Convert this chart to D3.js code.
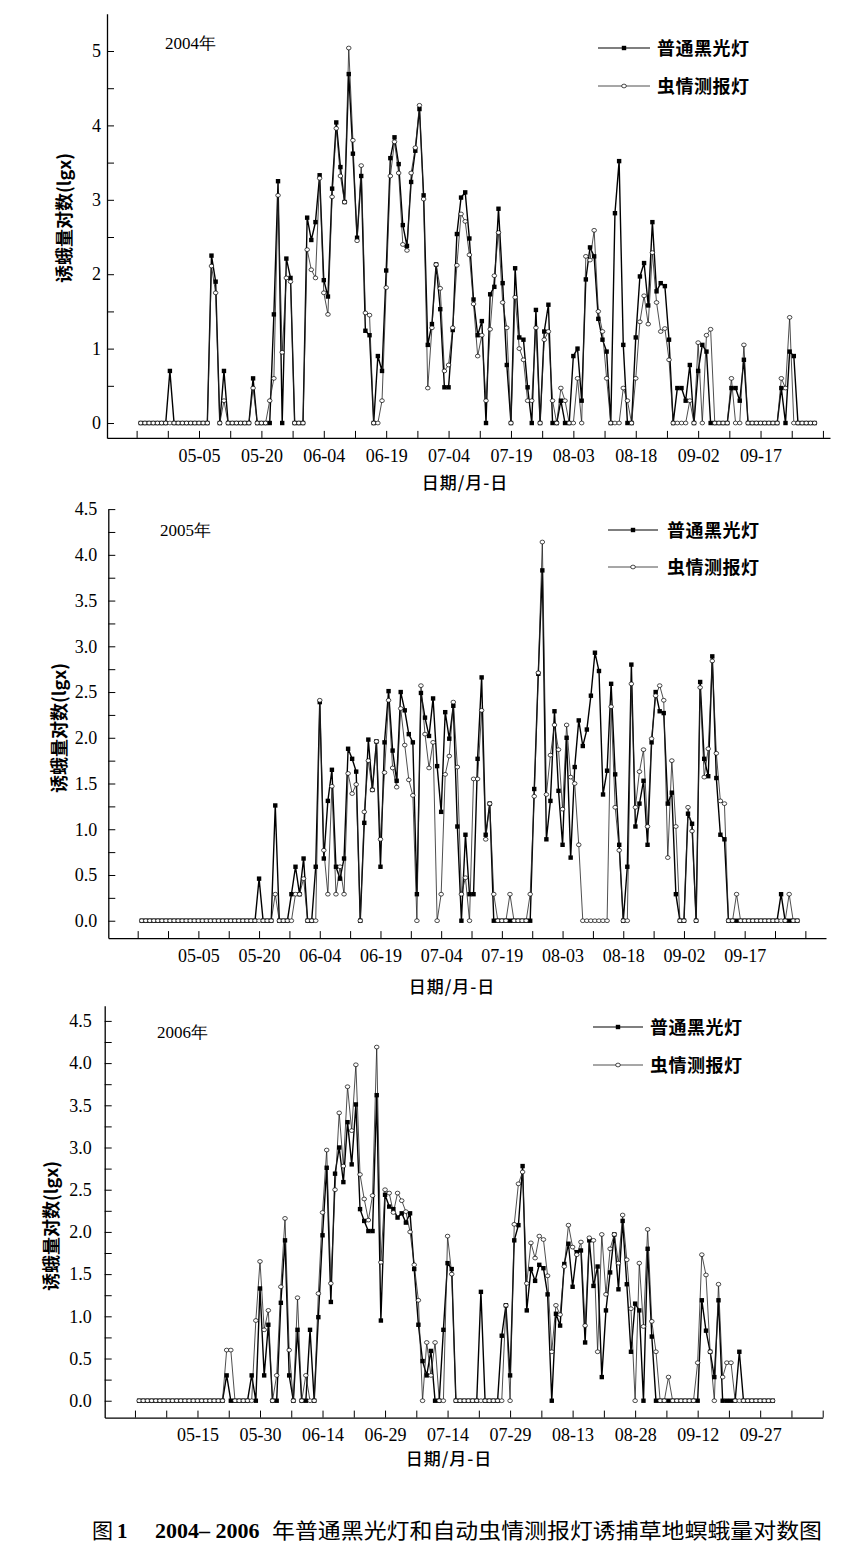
<!DOCTYPE html>
<html><head><meta charset="utf-8">
<script src="https://cdn.jsdelivr.net/npm/d3@7"></script>
<style>body{margin:0;background:#fff}svg{display:block}</style>
</head><body><svg id="c" width="863" height="1558"></svg>
<script>
// ---------------- data ----------------
const yearLabels = ["2004年", "2005年", "2006年"];
const seriesNames = ["普通黑光灯", "虫情测报灯"];
const tickOrigins = ["2004-04-20", "2005-04-20", "2006-04-30"]; // first x tick date
const dataStartOffset = [1, 1, 1]; // first data day relative to tick origin
const xTickDays = [0,7.5,15,22.5,30,37.5,45,52.5,60,67.5,75,82.5,90,97.5,105,112.5,120,127.5,135,142.5,150,157.5,165];
const xLabelDays = [15,30,45,60,75,90,105,120,135,150];
const yTicks2004 = [0,0.5,1,1.5,2,2.5,3,3.5,4,4.5,5];
const yLabels2004 = [0,1,2,3,4,5];
const yTicks2005 = [0,0.25,0.5,0.75,1,1.25,1.5,1.75,2,2.25,2.5,2.75,3,3.25,3.5,3.75,4,4.25,4.5];
const yLabels2005 = [0,0.5,1,1.5,2,2.5,3,3.5,4,4.5];

const black2004 = [
0,0,0,0,0,0,0,0.70,0,0,
0,0,0,0,0,0,0,2.25,1.90,0,
0.70,0,0,0,0,0,0,0.60,0,0,
0,0,1.46,3.25,0,2.21,1.95,0,0,0,
2.76,2.46,2.70,3.33,1.92,1.70,3.15,4.04,3.44,2.97,
4.69,3.62,2.49,3.32,1.24,1.18,0,0.90,0.70,2.05,
3.56,3.84,3.48,2.66,2.38,3.24,3.66,4.22,3.06,1.05,
1.33,2.13,1.53,0.48,0.48,1.25,2.54,3.03,3.10,2.48,
1.66,1.18,1.37,0,1.73,1.83,2.88,1.88,0.78,0,
2.08,1.15,1.12,0.48,0,1.52,0,1.23,1.59,0,
0,0.30,0,0,0.90,1.00,0.30,1.93,2.36,2.24,
1.40,1.12,0.96,0,2.82,3.52,1.05,0,0,1.15,
1.97,2.15,1.58,2.70,1.77,1.88,1.84,1.12,0,0.47,
0.47,0.30,0.78,0,0.70,1.05,0.96,0,0,0,
0,0,0.47,0.47,0.30,0.85,0,0,0,0,
0,0,0,0,0.47,0,0.96,0.90,0,0,
0,0,0];
const lamp2004 = [
0,0,0,0,0,0,0,0,0,0,
0,0,0,0,0,0,0,2.11,1.75,0,
0.30,0,0,0,0,0,0,0.47,0,0,
0,0.30,0.60,3.06,0.95,1.95,1.90,0,0,0,
2.33,2.06,1.95,3.29,1.75,1.46,3.04,3.96,3.32,2.97,
5.04,3.80,2.45,3.46,1.48,1.45,0,0,0.30,1.82,
3.32,3.78,3.36,2.40,2.32,3.36,3.70,4.27,3.01,0.47,
1.28,2.13,1.81,0.70,0.78,1.28,2.12,2.81,2.71,2.26,
1.60,0.90,1.18,0.30,1.26,1.98,2.56,1.62,1.28,0,
1.69,1.00,0.85,0.30,0.30,1.28,0,1.12,1.23,0.30,
0,0.47,0.30,0,0,0.60,0,2.24,2.19,2.59,
1.50,1.23,0.60,0,0,0,0.47,0.30,0,0.60,
1.36,1.71,1.33,2.29,1.62,1.23,1.27,0.85,0,0,
0,0,0.30,0,1.08,0,1.18,1.26,0,0,
0,0,0.60,0,0,1.05,0,0,0,0,
0,0,0,0,0.60,0.47,1.42,0,0,0,
0,0,0];

const black2005 = [
0,0,0,0,0,0,0,0,0,0,
0,0,0,0,0,0,0,0,0,0,
0,0,0,0,0,0,0,0,0,0.46,
0,0,0,1.26,0,0,0,0.29,0.59,0.29,
0.68,0,0,0.59,2.39,0.68,1.31,1.65,0.59,0.46,
0.68,1.88,1.77,1.63,0,1.07,1.98,1.43,1.96,0.59,
1.95,2.51,1.86,1.53,2.50,2.30,2.04,1.95,0.29,2.49,
2.22,2.02,2.43,1.69,1.19,2.28,1.99,2.35,1.03,0,
0.94,0.29,0.29,1.77,2.66,0.94,1.28,0,0,0,
0,0,0,0,0,0,0,1.44,2.70,3.83,
0.89,1.31,2.29,1.42,0.83,2.00,0.69,1.68,2.19,1.91,
2.09,2.46,2.93,2.73,1.38,1.64,2.59,1.60,0.83,0,
0.59,2.80,1.03,1.28,1.53,0.83,1.95,2.50,2.29,2.27,
1.28,1.40,0.29,0,0,1.17,1.06,0,2.61,1.77,
1.58,2.89,1.56,0.94,0.89,0,0,0,0,0,
0,0,0,0,0,0,0,0,0.29,0,
0,0,0];
const lamp2005 = [
0,0,0,0,0,0,0,0,0,0,
0,0,0,0,0,0,0,0,0,0,
0,0,0,0,0,0,0,0,0,0,
0,0,0,0.29,0,0,0,0,0.29,0.29,
0.46,0,0,0,2.41,0.77,0.29,1.47,0.29,0.59,
0.29,1.61,1.39,1.49,0,1.19,1.75,1.43,1.96,0.89,
1.62,2.41,1.67,1.46,2.32,1.92,1.54,1.37,0,2.57,
2.04,1.67,1.95,0,0.29,1.60,1.80,2.39,1.68,0.29,
0.47,0,1.55,1.55,2.30,0.89,1.28,0.29,0,0,
0,0.29,0,0,0,0,0.29,1.36,2.71,4.14,
1.38,1.81,2.14,1.87,1.22,2.14,1.57,1.50,0.83,0,
0,0,0,0,0,0,2.34,1.24,0.77,0,
0,2.59,1.24,1.63,1.87,1.03,1.99,2.46,2.57,2.41,
0.69,1.75,1.03,0,0,1.24,0.98,0,2.55,1.57,
1.88,2.84,1.83,1.31,1.28,0,0,0.29,0,0,
0,0,0,0,0,0,0,0,0,0,
0.29,0,0];

const black2006 = [
0,0,0,0,0,0,0,0,0,0,
0,0,0,0,0,0,0,0,0,0,
0,0.30,0,0,0,0,0,0.30,0,1.33,
0.30,0.90,0,0,1.16,1.90,0.30,0,0.84,0,
0,0.84,0,0.99,1.96,2.76,1.17,2.69,3.00,2.59,
3.30,2.80,3.51,2.27,2.13,2.01,2.01,3.62,0.95,2.44,
2.30,2.27,2.17,2.22,2.11,2.22,1.56,0.90,0.47,0.30,
0.59,0,0,0.84,1.63,1.56,0,0,0,0,
0,0,1.29,0,0,0,0,0.77,1.13,0.30,
1.90,2.08,2.78,1.07,1.56,1.42,1.61,1.57,1.26,0,
1.03,0.89,1.62,1.86,1.35,1.76,1.78,0.69,1.90,1.36,
1.59,0.28,1.07,1.52,1.97,1.32,2.13,1.38,0.58,1.15,
1.07,0,1.80,0.76,0,0,0,0,0,0,
0,0,0,0,0,1.19,0.83,0.58,0.28,1.19,
0,0,0,0,0.58,0,0,0,0,0,
0,0,0];
const lamp2006 = [
0,0,0,0,0,0,0,0,0,0,
0,0,0,0,0,0,0,0,0,0,
0,0.60,0.60,0,0,0,0,0,0.95,1.65,
0.84,1.07,0,0.30,1.35,2.16,0.60,0,1.22,0,
0.30,0,0,1.27,2.23,2.97,1.39,2.50,3.41,2.78,
3.72,3.20,3.98,2.68,2.39,2.14,2.43,4.19,1.64,2.50,
2.46,2.23,2.46,2.37,2.24,2.00,1.61,1.19,0,0.69,
0.30,0.69,0,0,1.95,1.50,0,0,0,0,
0,0,0,0,0,0,0,0,1.13,0,
2.09,2.57,2.71,1.39,1.87,1.69,1.95,1.91,1.48,0.58,
1.13,1.02,1.59,2.08,1.82,1.73,1.88,0.89,1.93,1.90,
0.58,1.97,1.26,1.80,1.97,1.63,2.20,1.67,1.09,0,
1.63,0.88,2.03,0.94,0.58,0,0,0.28,0,0,
0,0,0,0,0.45,1.73,1.49,0.58,0,1.38,
0.28,0.45,0.45,0,0,0,0,0,0,0,
0,0,0];

// ---------------- layout ----------------
const panels = [
  {black: black2004, lamp: lamp2004, xDom: [-7.12, 166.7], xRange: [107, 830], yDom: [-0.2, 5.5], yRange: [437.9, 13.8],
   yTicks: yTicks2004, yLabels: yLabels2004, yFmt: d3.format("d"), yPad: 6,
   yearPos: [165, 49], leg: {x1: 598, x2: 650, tx: 657, y: [48, 86]}, yTitle: [63, 218], xTitle: [465, 489]},
  {black: black2005, lamp: lamp2005, xDom: [-7.26, 170.1], xRange: [108.3, 826], yDom: [-0.19, 4.5], yRange: [938.1, 509.1],
   yTicks: yTicks2005, yLabels: yLabels2005, yFmt: d3.format(".1f"), yPad: 11,
   yearPos: [160, 536], leg: {x1: 608, x2: 658, tx: 667, y: [530, 567]}, yTitle: [58, 728], xTitle: [452, 993]},
  {black: black2006, lamp: lamp2006, xDom: [-7.26, 165], xRange: [104.7, 822.7], yDom: [-0.2, 4.68], yRange: [1417.6, 1005.7],
   yTicks: yTicks2005, yLabels: yLabels2005, yFmt: d3.format(".1f"), yPad: 13,
   yearPos: [157, 1038], leg: {x1: 593, x2: 643, tx: 650, y: [1027, 1065]}, yTitle: [50, 1226], xTitle: [449, 1465]}
];

const svg = d3.select("#c");
const serif = "'Liberation Serif','Times New Roman',serif";
const cjk = "'Noto Sans CJK SC','Noto Sans',sans-serif";
const parse = d3.timeParse("%Y-%m-%d");
const fmt = d3.timeFormat("%m-%d");

function drawMarkers(g, data, kind, x, y, start) {
  const pts = data.map((v, i) => [start + i, v]);
  if (kind === "sq") {
    g.selectAll(null).data(pts).join("rect")
      .attr("x", d => x(d[0]) - 2.2).attr("y", d => y(d[1]) - 2.2)
      .attr("width", 4.4).attr("height", 4.4).attr("fill", "#000");
  } else {
    g.selectAll(null).data(pts).join("ellipse")
      .attr("cx", d => x(d[0])).attr("cy", d => y(d[1]))
      .attr("rx", 2.3).attr("ry", 1.9)
      .attr("fill", "#fff").attr("stroke", "#000").attr("stroke-width", 0.7);
  }
}

panels.forEach((p, pi) => {
  const x = d3.scaleLinear().domain(p.xDom).range(p.xRange);
  const y = d3.scaleLinear().domain(p.yDom).range(p.yRange);
  const origin = parse(tickOrigins[pi]);
  const start = dataStartOffset[pi];
  const g = svg.append("g");

  // axes
  const xAxis = d3.axisBottom(x).tickValues(xTickDays.filter(d => d <= p.xDom[1]))
    .tickSize(-7).tickSizeOuter(0).tickPadding(11)
    .tickFormat(d => xLabelDays.includes(d) ? fmt(d3.timeDay.offset(origin, d)) : "");
  const ax = g.append("g").attr("transform", `translate(0,${p.yRange[0]})`).call(xAxis);
  const yAxis = d3.axisLeft(y).tickValues(p.yTicks).tickSize(-7).tickSizeOuter(0).tickPadding(p.yPad)
    .tickFormat(d => p.yLabels.includes(d) ? p.yFmt(d) : "");
  const ay = g.append("g").attr("transform", `translate(${p.xRange[0]},0)`).call(yAxis);
  [ax, ay].forEach(a => {
    a.attr("font-family", null).attr("font-size", null);
    a.selectAll("path.domain").attr("stroke", "#000").attr("stroke-width", 1.3);
    a.selectAll(".tick line").attr("stroke", "#000").attr("stroke-width", 1);
    a.selectAll("text").style("font-family", serif).style("font-size", "18px").attr("fill", "#000");
  });

  // lines
  const line = d3.line().x(d => x(d[0])).y(d => y(d[1]));
  const bPts = p.black.map((v, i) => [start + i, v]);
  const lPts = p.lamp.map((v, i) => [start + i, v]);
  g.append("path").attr("d", line(bPts)).attr("fill", "none").attr("stroke", "#000").attr("stroke-width", 1.4);
  g.append("path").attr("d", line(lPts)).attr("fill", "none").attr("stroke", "#222").attr("stroke-width", 0.8);
  drawMarkers(g.append("g"), p.black, "sq", x, y, start);
  drawMarkers(g.append("g"), p.lamp, "ci", x, y, start);

  // year label
  g.append("text").attr("x", p.yearPos[0]).attr("y", p.yearPos[1])
    .style("font-family", serif).style("font-size", "17px").text(yearLabels[pi]);

  // legend
  seriesNames.forEach((name, si) => {
    const ly = p.leg.y[si];
    g.append("line").attr("x1", p.leg.x1).attr("x2", p.leg.x2).attr("y1", ly).attr("y2", ly)
      .attr("stroke", si === 0 ? "#000" : "#222").attr("stroke-width", si === 0 ? 1.2 : 0.8);
    const mx = (p.leg.x1 + p.leg.x2) / 2;
    if (si === 0) g.append("rect").attr("x", mx - 2.2).attr("y", ly - 2.2).attr("width", 4.4).attr("height", 4.4);
    else g.append("ellipse").attr("cx", mx).attr("cy", ly).attr("rx", 2.3).attr("ry", 1.9)
      .attr("fill", "#fff").attr("stroke", "#000").attr("stroke-width", 0.7);
    g.append("text").attr("x", p.leg.tx).attr("y", ly + 6.5).style("font-family", cjk)
      .style("font-weight", 700).style("font-size", "18px").attr("letter-spacing", 0.5).text(name);
  });

  // axis titles
  g.append("text").attr("transform", `translate(${p.yTitle[0]},${p.yTitle[1]}) rotate(-90)`)
    .attr("text-anchor", "middle").attr("dominant-baseline", "central")
    .style("font-family", cjk).style("font-weight", 700).style("font-size", "18px")
    .text("诱蛾量对数(lgx)");
  g.append("text").attr("x", p.xTitle[0]).attr("y", p.xTitle[1]).attr("text-anchor", "middle")
    .style("font-family", cjk).style("font-weight", 500).style("font-size", "17px").attr("letter-spacing", 1)
    .text("日期/月-日");
});

// caption
const cap = svg.append("g").style("font-size", "21px");
cap.append("text").attr("x", 92).attr("y", 1538).style("font-family", cjk).text("图");
cap.append("text").attr("x", 117).attr("y", 1538).style("font-family", serif).style("font-weight", 700).text("1");
cap.append("text").attr("x", 155).attr("y", 1538).style("font-family", serif).style("font-weight", 700)
  .style("font-size", "22px").text("2004– 2006");
cap.append("text").attr("x", 272).attr("y", 1538).style("font-family", cjk).attr("textLength", 550)
  .attr("lengthAdjust", "spacingAndGlyphs").text("年普通黑光灯和自动虫情测报灯诱捕草地螟蛾量对数图");
</script></body></html>
